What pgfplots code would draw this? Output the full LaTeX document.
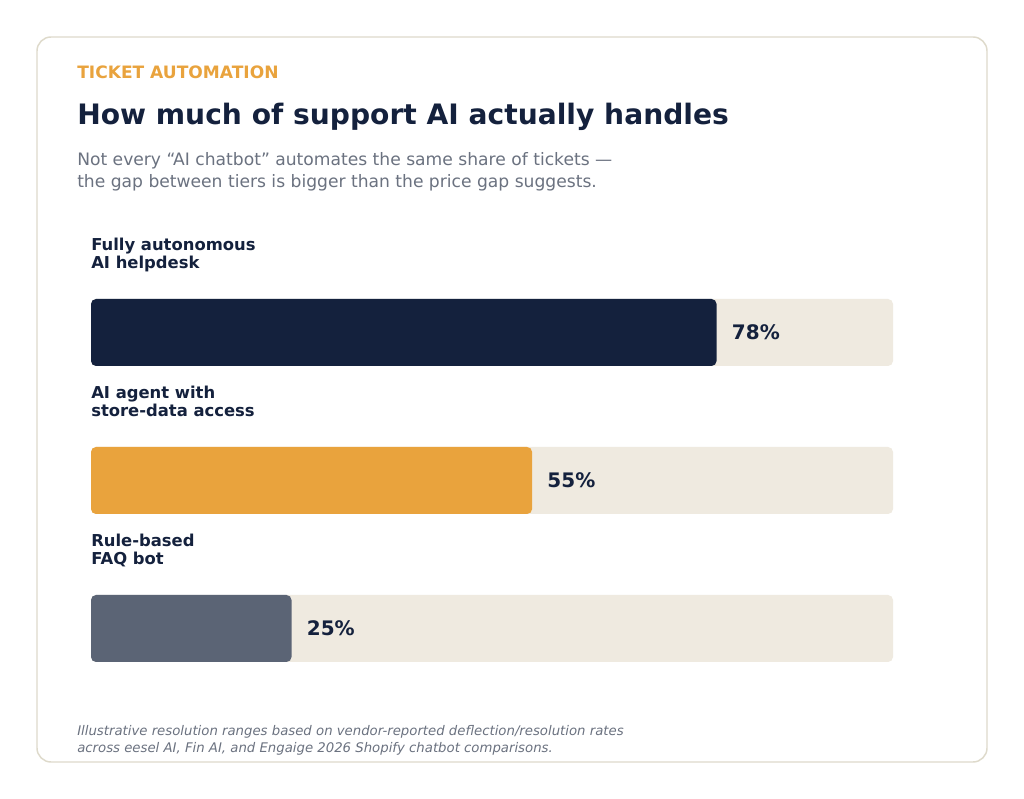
\documentclass[border=0pt]{standalone}
\usepackage{fontspec}
\setmainfont{DejaVu Sans}
\usepackage{pgfplots}
\pgfplotsset{compat=1.18}
\definecolor{navy}{HTML}{14213D}
\definecolor{amber}{HTML}{E9A33D}
\definecolor{slate}{HTML}{5B6475}
\definecolor{track}{HTML}{EFEAE0}
\definecolor{cardline}{HTML}{DEDACB}
\definecolor{subgray}{HTML}{6B7280}
\begin{document}
\begin{tikzpicture}[x=0.75pt,y=0.75pt]
% canvas
\fill[white] (0,0) rectangle (1024,799);
% card
\draw[cardline, line width=1.1pt, rounded corners=10.5pt, fill=white] (37,37) rectangle (987,762);
% texts (image y -> 799 - y)
\node[anchor=base west, inner sep=0pt, text=amber, font=\fontsize{12.8}{15}\selectfont\bfseries] at (77,799-79) {TICKET AUTOMATION};
\node[anchor=base west, inner sep=0pt, text=navy, font=\fontsize{21.1}{25}\selectfont\bfseries] at (77,799-125) {How much of support AI actually handles};
\node[anchor=base west, inner sep=0pt, text=subgray, font=\fontsize{12.85}{16}\selectfont] at (77,799-166) {Not every “AI chatbot” automates the same share of tickets —};
\node[anchor=base west, inner sep=0pt, text=subgray, font=\fontsize{12.85}{16}\selectfont] at (77,799-188) {the gap between tiers is bigger than the price gap suggests.};
% category labels
\foreach \la/\lb/\yy in {Fully autonomous/AI helpdesk/0, AI agent with/store-data access/148, Rule-based/FAQ bot/296}{
  \node[anchor=base west, inner sep=0pt, text=navy, font=\fontsize{12.3}{14}\selectfont\bfseries] at (91,799-251-\yy) {\la};
  \node[anchor=base west, inner sep=0pt, text=navy, font=\fontsize{12.3}{14}\selectfont\bfseries] at (91,799-269-\yy) {\lb};
}
% footnote
\node[anchor=base west, inner sep=0pt, text=subgray, font=\fontsize{9.95}{12}\selectfont\itshape] at (77,799-736) {Illustrative resolution ranges based on vendor-reported deflection/resolution rates};
\node[anchor=base west, inner sep=0pt, text=subgray, font=\fontsize{9.95}{12}\selectfont\itshape] at (77,799-753) {across eesel AI, Fin AI, and Engaige 2026 Shopify chatbot comparisons.};
\begin{axis}[
  at={(68.25pt,72.375pt)}, anchor=south west,
  scale only axis, width=601.5pt, height=333pt,
  xmin=0, xmax=100, ymin=-0.5, ymax=2.5,
  hide axis, clip=false,
  xbar, bar width=50.25pt, bar shift=0pt,
]
\addplot[draw=none, fill=track, rounded corners=3.75pt] coordinates {(100,2) (100,1) (100,0)};
\addplot[draw=none, fill=navy, rounded corners=3.75pt,
  nodes near coords, nodes near coords align={horizontal},
  every node near coord/.append style={anchor=west, xshift=8pt, text=navy, font=\fontsize{15}{18}\selectfont\bfseries},
  point meta=explicit symbolic] coordinates {(78,2) [78\%]};
\addplot[draw=none, fill=amber, rounded corners=3.75pt,
  nodes near coords, nodes near coords align={horizontal},
  every node near coord/.append style={anchor=west, xshift=8pt, text=navy, font=\fontsize{15}{18}\selectfont\bfseries},
  point meta=explicit symbolic] coordinates {(55,1) [55\%]};
\addplot[draw=none, fill=slate, rounded corners=3.75pt,
  nodes near coords, nodes near coords align={horizontal},
  every node near coord/.append style={anchor=west, xshift=8pt, text=navy, font=\fontsize{15}{18}\selectfont\bfseries},
  point meta=explicit symbolic] coordinates {(25,0) [25\%]};
\end{axis}
\end{tikzpicture}
\end{document}
